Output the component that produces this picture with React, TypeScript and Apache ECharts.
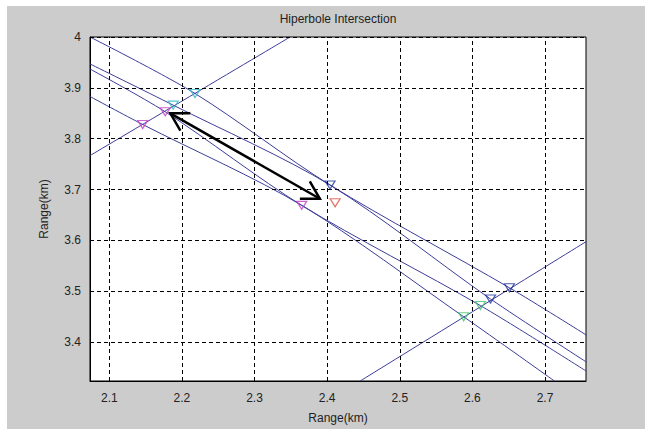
import React, { useEffect, useRef } from "react";
import * as echarts from "echarts";

// Axis ticks and ranges
const xTicks = [2.1, 2.2, 2.3, 2.4, 2.5, 2.6, 2.7];
const yTicks = [3.4, 3.5, 3.6, 3.7, 3.8, 3.9, 4.0];
const xRange = [2.0734, 2.7565];
const yRange = [3.3237, 4.0];

// Hyperbola curves (x, y in km)
const curveD1 = [[2.0734, 4.0], [2.218, 3.889], [2.404, 3.709], [2.651, 3.507], [2.757, 3.414]];
const curveD2 = [[2.0734, 3.947], [2.188, 3.866], [2.404, 3.709], [2.625, 3.485], [2.757, 3.361]];
const curveD3 = [[2.0734, 3.937], [2.177, 3.853], [2.365, 3.669], [2.611, 3.472], [2.757, 3.343]];
const curveD4 = [[2.0734, 3.883], [2.146, 3.828], [2.365, 3.669], [2.588, 3.45], [2.713, 3.3237]];
const curveU1 = [[2.0724, 3.766], [2.349, 4.0]];
const curveU2 = [[2.4455, 3.3237], [2.757, 3.598]];

// Intersection markers
const cyanPts = [[2.218, 3.889], [2.188, 3.866]];
const magentaPts = [[2.177, 3.853], [2.146, 3.828], [2.365, 3.669]];
const bluePts = [[2.404, 3.709], [2.625, 3.485], [2.651, 3.507]];
const greenPts = [[2.588, 3.45], [2.611, 3.472]];
const redPts = [[2.411, 3.674]];

// Double-headed arrow (x1, y1, x2, y2)
const arrowData = [[2.184, 3.85, 2.39, 3.682]];

const FONT = "'Liberation Sans', Arial, sans-serif";
const LINE_COLOR = "#3d3d98";

export default function App() {
  const ref = useRef<HTMLDivElement>(null);

  useEffect(() => {
    if (!ref.current) return;
    const chart = echarts.init(ref.current, undefined, { renderer: "svg" });

    const curve = (data: number[][]) => ({
      type: "line",
      data,
      showSymbol: false,
      symbol: "none",
      smooth: 0.3,
      clip: true,
      lineStyle: { color: LINE_COLOR, width: 1 },
      z: 3,
      silent: true,
    });

    const markers = (data: number[][], color: string) => ({
      type: "scatter",
      data,
      symbol: "triangle",
      symbolRotate: 180,
      symbolSize: [10, 8],
      itemStyle: { color: "rgba(255,255,255,0)", borderColor: color, borderWidth: 1.2 },
      z: 5,
      silent: true,
    });

    const fmt = (v: number) => String(+Number(v).toFixed(1));

    chart.setOption({
      animation: false,
      backgroundColor: "#cccccc",
      textStyle: { fontFamily: FONT },
      graphic: [
        {
          type: "text",
          x: 331,
          y: 13,
          style: {
            text: "Hiperbole Intersection",
            fill: "#222",
            font: `12px ${FONT}`,
            align: "center",
            verticalAlign: "middle",
          },
        },
      ],
      grid: {
        left: 83,
        top: 31,
        width: 496,
        height: 350,
        show: true,
        backgroundColor: "#ffffff",
        borderColor: "#000",
        borderWidth: 1,
        containLabel: false,
      },
      xAxis: {
        type: "value",
        min: xRange[0],
        max: xRange[1],
        name: "Range(km)",
        nameLocation: "middle",
        nameGap: 31,
        nameTextStyle: { color: "#222", fontSize: 12, fontFamily: FONT },
        axisLine: { show: true, lineStyle: { color: "#000", width: 1 } },
        axisTick: { show: false },
        splitLine: { show: false },
        axisLabel: {
          customValues: xTicks,
          color: "#222",
          fontSize: 12,
          fontFamily: FONT,
          margin: 11,
          formatter: fmt,
        },
      },
      yAxis: {
        type: "value",
        min: yRange[0],
        max: yRange[1],
        name: "Range(km)",
        nameLocation: "middle",
        nameGap: 40,
        nameRotate: 90,
        nameTextStyle: { color: "#222", fontSize: 12, fontFamily: FONT },
        axisLine: { show: true, lineStyle: { color: "#000", width: 1 } },
        axisTick: { show: false },
        splitLine: { show: false },
        axisLabel: {
          customValues: yTicks,
          color: "#222",
          fontSize: 12,
          fontFamily: FONT,
          margin: 9,
          formatter: fmt,
        },
      },
      series: [
        {
          type: "line",
          data: [],
          silent: true,
          z: 1,
          markLine: {
            silent: true,
            symbol: ["none", "none"],
            label: { show: false },
            lineStyle: { type: [4, 3], color: "#000", width: 1 },
            data: [
              ...xTicks.map((v) => ({ xAxis: v })),
              ...yTicks.map((v) => ({ yAxis: v })),
            ],
          },
        },
        curve(curveD1),
        curve(curveD2),
        curve(curveD3),
        curve(curveD4),
        curve(curveU1),
        curve(curveU2),
        markers(cyanPts, "#2fb8c8"),
        markers(magentaPts, "#c43cc4"),
        markers(bluePts, "#22339e"),
        markers(greenPts, "#3fc46e"),
        markers(redPts, "#d9503f"),
        {
          type: "custom",
          data: arrowData,
          z: 6,
          silent: true,
          renderItem: (params: any, api: any) => {
            const a = api.coord([api.value(0), api.value(1)]);
            const b = api.coord([api.value(2), api.value(3)]);
            const L = 20;
            const half = (30 * Math.PI) / 180;
            const head = (tip: number[], from: number[]) => {
              const ang = Math.atan2(from[1] - tip[1], from[0] - tip[0]);
              return [
                [tip[0] + L * Math.cos(ang + half), tip[1] + L * Math.sin(ang + half)],
                tip,
                [tip[0] + L * Math.cos(ang - half), tip[1] + L * Math.sin(ang - half)],
              ];
            };
            const st = { stroke: "#000", lineWidth: 2.5, fill: "none" };
            return {
              type: "group",
              children: [
                { type: "polyline", shape: { points: [a, b] }, style: st },
                { type: "polyline", shape: { points: head(a, b) }, style: st },
                { type: "polyline", shape: { points: head(b, a) }, style: st },
              ],
            };
          },
        },
      ],
    });

    return () => chart.dispose();
  }, []);

  return (
    <div style={{ position: "fixed", left: 0, top: 0, width: 645, height: 432, background: "#fff" }}>
      <div ref={ref} style={{ position: "absolute", left: 7, top: 6, width: 638, height: 423 }} />
    </div>
  );
}
